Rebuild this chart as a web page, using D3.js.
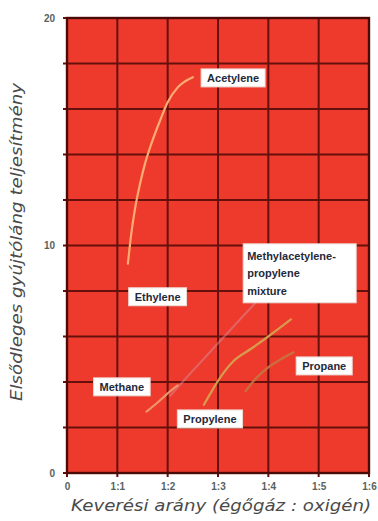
<!DOCTYPE html>
<html><head><meta charset="utf-8">
<script src="https://cdn.jsdelivr.net/npm/d3@7"></script>
<style>
html,body{margin:0;padding:0;background:#fff;}
svg{display:block;}
</style></head>
<body>
<svg id="c" width="378" height="521"></svg>
<script>
// ---- data ----
const xTickValues = [0, 1, 2, 3, 4, 5, 6];
const xTickLabels = ["0", "1:1", "1:2", "1:3", "1:4", "1:5", "1:6"];
const yTickValues = [0, 10, 20];
const yGridValues = [0, 2, 4, 6, 8, 10, 12, 14, 16, 18, 20];

const seriesNames = ["Acetylene", "Ethylene", "Methane", "Propylene", "Propane"];
const acetylene = [[1.21, 9.2], [1.27, 10.4], [1.35, 11.6], [1.45, 12.7], [1.55, 13.6], [1.68, 14.5], [1.85, 15.5], [2.0, 16.3], [2.2, 16.95], [2.5, 17.4]];
const ethylene  = [[2.05, 3.4], [2.5, 4.5], [3.0, 5.7], [3.5, 6.9], [4.05, 8.2]];
const methane   = [[1.58, 2.7], [1.8, 3.1], [2.0, 3.5], [2.2, 3.85]];
const propylene = [[2.72, 3.0], [2.85, 3.5], [3.0, 4.05], [3.3, 4.9], [3.65, 5.45], [4.0, 6.0], [4.45, 6.75]];
const propane   = [[3.55, 3.6], [3.75, 4.15], [4.0, 4.65], [4.25, 5.0], [4.5, 5.3]];

const labelNames = ["Acetylene", "Methylacetylene-\npropylene\nmixture", "Ethylene", "Methane", "Propylene", "Propane"];
const labelAnchors = [[3.3, 17.36], [3.58, 9.54], [1.8, 7.74], [1.09, 3.78], [2.84, 2.37], [5.11, 4.7]];
const labelAlign = ["middle", "start", "middle", "middle", "middle", "middle"];

const axisTitleX = "Keverési arány (égőgáz : oxigén)";
const axisTitleY = "Elsődleges gyújtóláng teljesítmény";

// ---- layout ----
const svg = d3.select("#c");
const L = 67, R = 369, T = 18, B = 473;
const x = d3.scaleLinear().domain([0, 6]).range([L, R]);
const y = d3.scaleLinear().domain([0, 20]).range([B, T]);

svg.append("rect").attr("x", L).attr("y", T).attr("width", R - L).attr("height", B - T)
  .attr("fill", "#ee3a2c");

const grid = svg.append("g");
grid.selectAll("line.h").data(yGridValues).join("line")
  .attr("x1", L - 4).attr("x2", R).attr("y1", d => y(d)).attr("y2", d => y(d))
  .attr("stroke", "#65100d").attr("stroke-width", 2);
grid.selectAll("line.v").data(xTickValues).join("line")
  .attr("y1", T).attr("y2", B + 4).attr("x1", d => x(d)).attr("x2", d => x(d))
  .attr("stroke", "#65100d").attr("stroke-width", 2);

svg.append("rect").attr("x", L).attr("y", T).attr("width", R - L).attr("height", B - T)
  .attr("fill", "none").attr("stroke", "#4a0a08").attr("stroke-width", 2.4);

const xAxis = d3.axisBottom(x).tickValues(xTickValues).tickFormat((d, i) => xTickLabels[i]).tickSize(0).tickPadding(10);
const gx = svg.append("g").attr("transform", `translate(0,${B})`).call(xAxis);
gx.select(".domain").remove();
gx.selectAll("text").attr("font-family", "Liberation Sans, Arial, sans-serif").attr("font-weight", "bold")
  .attr("font-size", 10).attr("fill", "#56625e");

const yAxis = d3.axisLeft(y).tickValues(yTickValues).tickFormat(d3.format("d")).tickSize(0).tickPadding(12);
const gy = svg.append("g").attr("transform", `translate(${L},0)`).call(yAxis);
gy.select(".domain").remove();
gy.selectAll("text").attr("font-family", "Liberation Sans, Arial, sans-serif").attr("font-weight", "bold")
  .attr("font-size", 10).attr("fill", "#56625e");

const line = d3.line().x(d => x(d[0])).y(d => y(d[1])).curve(d3.curveMonotoneX);
const curves = [
  {data: ethylene, color: "#d98a9a", w: 2.2, op: 0.5},
  {data: methane, color: "#f0a070", w: 2.2, op: 0.9},
  {data: propylene, color: "#d6a04e", w: 2.2, op: 0.95},
  {data: propane, color: "#c8703e", w: 2.4, op: 0.95},
  {data: acetylene, color: "#ffab72", w: 2.2, op: 1}
];
svg.append("g").selectAll("path").data(curves).join("path")
  .attr("d", d => line(d.data)).attr("fill", "none")
  .attr("stroke", d => d.color).attr("stroke-width", d => d.w).attr("stroke-opacity", d => d.op)
  .attr("stroke-linecap", "round");

const lg = svg.append("g").attr("font-family", "Liberation Sans, Arial, sans-serif")
  .attr("font-weight", "bold").attr("font-size", 11).attr("fill", "#1f2a3a");
labelNames.forEach((name, i) => {
  const lines = name.split("\n");
  const g = lg.append("g").attr("transform", `translate(${x(labelAnchors[i][0])},${y(labelAnchors[i][1])})`);
  const t = g.append("text").attr("text-anchor", labelAlign[i]);
  lines.forEach((s, j) => t.append("tspan").attr("x", 0).attr("dy", j === 0 ? "0.35em" : 17.5).text(s));
  const bb = t.node().getBBox();
  const padX = lines.length > 1 ? 4 : 6, padY = lines.length > 1 ? 6 : 3;
  const extraR = lines.length > 1 ? 16 : 0;
  g.insert("rect", "text").attr("x", bb.x - padX).attr("y", bb.y - padY)
    .attr("width", bb.width + 2 * padX + extraR).attr("height", bb.height + 2 * padY)
    .attr("fill", "#fff").attr("stroke", "#ead8d2").attr("stroke-width", 1);
});

svg.append("text").attr("x", 221).attr("y", 511).attr("text-anchor", "middle")
  .attr("font-family", "'DejaVu Sans', sans-serif").attr("font-style", "italic").attr("font-weight", 200)
  .attr("font-size", 16).attr("fill", "#4a4a4a")
  .attr("textLength", 300).attr("lengthAdjust", "spacingAndGlyphs").text(axisTitleX);
svg.append("text").attr("transform", "translate(22,242) rotate(-90)").attr("text-anchor", "middle")
  .attr("font-family", "'DejaVu Sans', sans-serif").attr("font-style", "italic").attr("font-weight", 200)
  .attr("font-size", 16).attr("fill", "#4a4a4a")
  .attr("textLength", 318).attr("lengthAdjust", "spacingAndGlyphs").text(axisTitleY);
</script>
</body></html>
